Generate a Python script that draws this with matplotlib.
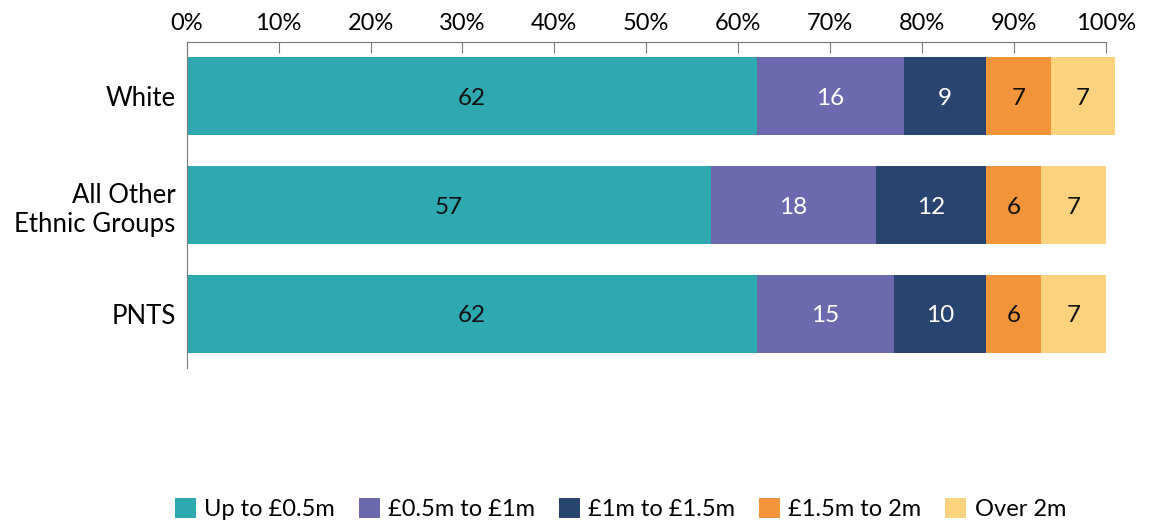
import matplotlib
matplotlib.use("Agg")
from matplotlib import pyplot as plt
import numpy as np

plt.rcParams['font.family'] = ['Lato', 'DejaVu Sans']

groups = ['White', 'All Other\nEthnic Groups', 'PNTS']
bands = ['Up to £0.5m', '£0.5m to £1m', '£1m to £1.5m', '£1.5m to 2m', 'Over 2m']
up_to_05 = [62, 57, 62]
from_05_to_1 = [16, 18, 15]
from_1_to_15 = [9, 12, 10]
from_15_to_2 = [7, 6, 6]
over_2 = [7, 7, 7]

series = [up_to_05, from_05_to_1, from_1_to_15, from_15_to_2, over_2]
colors = ['#2EA9B0', '#6B6AAF', '#29446F', '#F2953A', '#FCD27E']
text_colors = ['#111111', 'white', 'white', '#111111', '#111111']

fig = plt.figure(figsize=(11.53, 5.23), dpi=100)
ax = fig.add_axes([0.162, 0.296, 0.797, 0.624])

y = np.arange(len(groups))
left = np.zeros(len(groups))
for vals, name, c, tc in zip(series, bands, colors, text_colors):
    vals = np.array(vals, dtype=float)
    ax.barh(y, vals, left=left, height=0.716, color=c, label=name, clip_on=False)
    for yi, l, v in zip(y, left, vals):
        ax.text(l + v / 2, yi + 0.02, '{:d}'.format(int(v)), ha='center', va='center',
                color=tc, fontsize=17.5)
    left += vals

ax.set_xlim(0, 100)
ax.set_ylim(2.5, -0.5)
ax.set_xticks(np.arange(0, 101, 10))
ax.set_xticklabels(['{}%'.format(t) for t in range(0, 101, 10)])
ax.xaxis.tick_top()
ax.tick_params(axis='x', direction='in', length=8, color='#777777', labelsize=17, pad=6)
ax.set_yticks(y)
ax.set_yticklabels(groups, fontsize=18.5)
ax.tick_params(axis='y', length=0, pad=8)
for s in ['right', 'bottom']:
    ax.spines[s].set_visible(False)
ax.spines['top'].set_color('#777777')
ax.spines['left'].set_color('#777777')

handles, labels = ax.get_legend_handles_labels()
fig.legend(handles, labels, loc='lower center', bbox_to_anchor=(0.538, -0.035), ncol=5,
           frameon=False, fontsize=17, handlelength=0.9, handleheight=0.9,
           handletextpad=0.35, columnspacing=1.0)

fig.savefig('out.png', dpi=100)
